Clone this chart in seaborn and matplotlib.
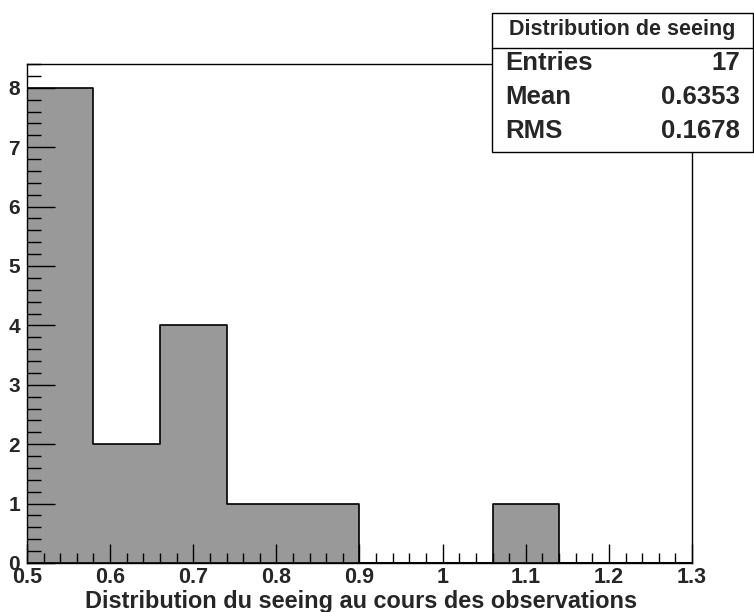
"""Histogramme du seeing (style ROOT)."""

import matplotlib.pyplot as plt
import numpy as np
import pandas as pd
import seaborn as sns
from matplotlib.patches import Rectangle
from matplotlib.ticker import MultipleLocator

bin_edges = [0.5, 0.58, 0.66, 0.74, 0.82, 0.90, 0.98, 1.06, 1.14, 1.22, 1.30]
counts = [8, 2, 4, 1, 1, 0, 0, 1, 0, 0]
stats_title = "Distribution de seeing"
stats_labels = ["Entries", "Mean", "RMS"]
stats_values = ["17", "0.6353", "0.1678"]
x_title = "Distribution du seeing au cours des observations"

sns.set_style("white")
plt.rcParams["font.family"] = ["Liberation Sans", "DejaVu Sans"]
plt.rcParams["font.weight"] = "bold"

centers = [(a + b) / 2 for a, b in zip(bin_edges[:-1], bin_edges[1:])]
df = pd.DataFrame({"seeing": centers, "n": counts})

W, H = 754, 612
fig = plt.figure(figsize=(W / 100, H / 100), dpi=100)
ax = fig.add_axes([27 / W, (H - 563) / H, 665 / W, (563 - 64) / H])

sns.histplot(
    data=df, x="seeing", weights="n", bins=bin_edges, element="step",
    color="#999999", alpha=1.0, edgecolor="black", linewidth=1.2, ax=ax,
)
ax.set_axisbelow(False)

ax.set_xlim(0.5, 1.3)
ax.set_ylim(0, 1.05 * max(counts))
ax.xaxis.set_minor_locator(MultipleLocator(0.02))
ax.yaxis.set_major_locator(MultipleLocator(1))
ax.yaxis.set_minor_locator(MultipleLocator(0.2))
ax.set_xticks(np.arange(0.5, 1.31, 0.1))
ax.set_xticklabels(["0.5", "0.6", "0.7", "0.8", "0.9", "1", "1.1", "1.2", "1.3"])

ax.tick_params(axis="both", which="both", direction="in", color="black",
               bottom=True, left=True, top=False, right=False)
ax.tick_params(axis="x", which="major", length=14, width=1, pad=3, labelsize=15.5)
ax.tick_params(axis="x", which="minor", length=7, width=1)
ax.tick_params(axis="y", which="major", length=20, width=1, pad=5, labelsize=15)
ax.tick_params(axis="y", which="minor", length=10, width=1)
for lab in ax.get_xticklabels() + ax.get_yticklabels():
    lab.set_fontweight("bold")

for sp in ax.spines.values():
    sp.set_visible(True)
    sp.set_color("black")
    sp.set_linewidth(1)

ax.set_ylabel("")
ax.set_xlabel("")


# boîte de statistiques
def fx(px):
    return px / W


def fy(py):
    return 1 - py / H


fig.text(fx(361), fy(608), x_title, ha="center", va="baseline",
         fontsize=16.9, fontweight="bold")

box = Rectangle((fx(492), fy(152)), fx(753) - fx(492), fy(13) - fy(152),
                transform=fig.transFigure, facecolor="white",
                edgecolor="black", linewidth=1, zorder=5)
fig.patches.append(box)
fig.add_artist(plt.Line2D([fx(492), fx(753)], [fy(48), fy(48)],
                          transform=fig.transFigure, color="black", lw=1, zorder=6))
fig.text(fx(622), fy(30), stats_title, ha="center", va="center",
         fontsize=15.5, fontweight="bold", zorder=7)
for i, (lab, val) in enumerate(zip(stats_labels, stats_values)):
    y = fy(63 + 34 * i)
    fig.text(fx(505), y, lab, ha="left", va="center", fontsize=18.5, fontweight="bold", zorder=7)
    fig.text(fx(740), y, val, ha="right", va="center", fontsize=18.5, fontweight="bold", zorder=7)

fig.savefig("out.png", dpi=100)
